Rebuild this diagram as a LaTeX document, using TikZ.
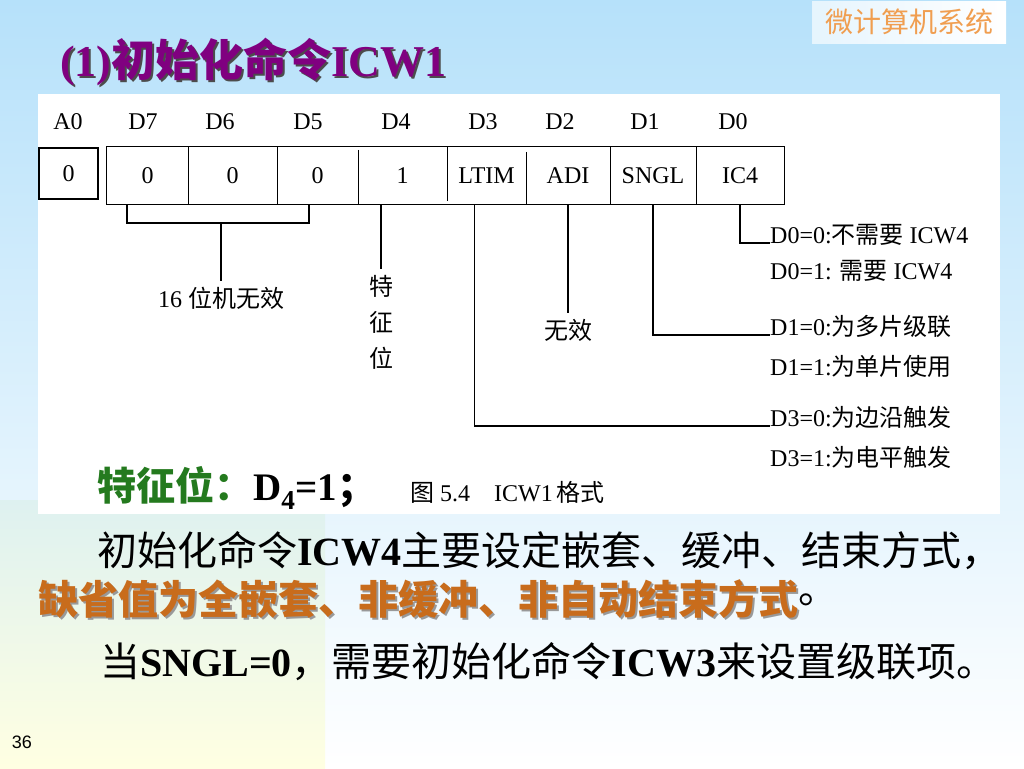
\documentclass[tikz,border=0pt]{standalone}
\usepackage{fontspec}
\setmainfont{Liberation Serif}
\newfontfamily\cjk{Noto Sans CJK SC}
\newfontfamily\pagefont{Liberation Sans}
\usetikzlibrary{positioning}

\definecolor{skyblue}{RGB}{182,225,250}
\definecolor{paleyellow}{RGB}{255,255,226}
\definecolor{palegreen}{RGB}{222,241,240}
\definecolor{titlepurple}{RGB}{128,0,128}
\definecolor{noteorange}{RGB}{200,108,28}
\definecolor{featgreen}{RGB}{36,122,30}
\definecolor{brandorange}{RGB}{240,158,80}

% text with a drop shadow behind it
\newcommand\shadowtext[3]{\makebox[0pt][l]{\hspace{2pt}\raisebox{-2.5pt}{\textcolor{#2}{#3}}}\textcolor{#1}{#3}}

\begin{document}
\begin{tikzpicture}[x=1pt, y=-1pt,
    lbl/.style={font=\fontsize{24}{28}\selectfont, inner sep=0pt},
    tag/.style={font=\fontsize{24}{36}\selectfont\cjk, inner sep=6pt, align=center},
    cell/.style={font=\fontsize{24}{28}\selectfont, inner sep=0pt, minimum height=57pt},
    wire/.style={line width=1.3pt},
    body/.style={font=\fontsize{40}{44}\selectfont, inner sep=0pt, anchor=west}]
    \useasboundingbox (0,0) rectangle (1024,768);

    % Slide background
    \shade[top color=skyblue, bottom color=white] (0,0) rectangle (1024,768);
    \shade[top color=palegreen, bottom color=paleyellow] (0,500) rectangle (325,768);
    \fill[white] (38,94) rectangle (1000,514);

    % Course banner
    \shade[left color=skyblue!35!white, right color=white] (812,2) rectangle (1006,44);
    \node[font=\fontsize{28}{30}\selectfont\cjk, text=brandorange] (brand) at (909,22) {微计算机系统};

    % Title
    \node[anchor=west, font=\fontsize{44}{48}\selectfont\bfseries, inner sep=0pt] (title) at (60,63)
        {\shadowtext{titlepurple}{black!70}{(1){\cjk 初始化命令}ICW1}};

    % Bit headers
    \foreach \nm/\x/\txt in {ha0/68/A0, hd7/143/D7, hd6/220/D6, hd5/308/D5, hd4/396/D4,
                             hd3/483/D3, hd2/560/D2, hd1/645/D1, hd0/733/D0} {
        \node[lbl] (\nm) at (\x,122) {\txt};
    }

    % A0 box
    \node[cell, draw, line width=1.3pt, minimum width=59pt, minimum height=51pt] (a0) at (68.5,173.5) {0};

    % ICW1 cells
    \foreach \nm/\xa/\xb/\txt in {d7/107/188/0, d6/188/277/0, d5/277/358/0, d4/358/447/1,
                                  ltim/447/526/LTIM, adi/526/610/ADI, sngl/610/696/SNGL, ic4/696/784/IC4} {
        \node[cell, minimum width={(\xb-\xa)*1pt}] (\nm) at ({(\xa+\xb)/2},175.5) {\txt};
    }
    \draw[wire] (d7.north west) rectangle (ic4.south east);
    \draw[wire] (d7.north east) -- (d7.south east);
    \draw[wire] (d6.north east) -- (d6.south east);
    \draw[wire] ([yshift=-3pt]d5.north east) -- (d5.south east);
    \draw[wire] (d4.north east) -- ([yshift=3pt]d4.south east);
    \draw[wire] ([yshift=-5pt]ltim.north east) -- (ltim.south east);
    \draw[wire] (adi.north east) -- (adi.south east);
    \draw[wire] (sngl.north east) -- (sngl.south east);

    % Explanations
    \node[tag] (wx16) at (221,298) {\rmfamily 16 {\cjk 位机无效}};
    \node[tag] (tzw) at (381,322) {特\\征\\位};
    \node[tag] (wx) at (568,330) {无效};
    \node[lbl, anchor=base west] (d00) at (770,243) {D0=0:{\cjk 不需要} ICW4};
    \node[lbl, anchor=base west] (d01) at (770,279) {D0=1: {\cjk 需要} ICW4};
    \node[lbl, anchor=base west] (d10) at (770,335) {D1=0:{\cjk 为多片级联}};
    \node[lbl, anchor=base west] (d11) at (770,375) {D1=1:{\cjk 为单片使用}};
    \node[lbl, anchor=base west] (d30) at (770,426) {D3=0:{\cjk 为边沿触发}};
    \node[lbl, anchor=base west] (d31) at (770,466) {D3=1:{\cjk 为电平触发}};

    % Connectors
    \coordinate (brL) at (127,223);
    \coordinate (brR) at (309,223);
    \draw[wire] (d7.south -| brL) -- (brL) -- (brR) -- (d5.south -| brR);
    \draw[wire] (wx16.north |- brL) -- (wx16.north);
    \draw[wire] (d4.south -| tzw.north) -- (tzw.north);
    \draw[wire] (adi.south) -- (wx.north);
    \draw[wire] (ic4.south) |- (d00.base west);
    \draw[wire] (sngl.south) |- (d10.base west);
    \draw[wire] ([xshift=-12pt]ltim.south) |- (d30.base west);

    % Caption and feature bit
    \node[lbl, anchor=west] (caption) at (410,492) {{\cjk 图} 5.4\quad ICW1\,{\cjk 格式}};
    \node[anchor=west, font=\fontsize{39}{42}\selectfont\bfseries, inner sep=0pt] (feature) at (97,488)
        {\textcolor{featgreen}{\cjk 特征位：}D\textsubscript{4}=1{\cjk ；}};

    % Body text
    \node[body] (line1) at (97,551) {{\cjk 初始化命令}\textbf{ICW4}{\cjk 主要设定嵌套、缓冲、结束方式，}};
    \node[body, font=\fontsize{40}{44}\selectfont\bfseries\cjk] (line2) at (38,600)
        {\shadowtext{noteorange}{black!40}{缺省值为全嵌套、非缓冲、非自动结束方式}};
    \node[body, font=\fontsize{40}{44}\selectfont\cjk, right=0pt of line2] (line2end) {。};
    \node[body] (line3) at (100,662) {{\cjk 当}\textbf{SNGL=0}{\cjk ，需要初始化命令}\textbf{ICW3}{\cjk 来设置级联项。}};

    % Page number
    \node[font=\pagefont\fontsize{18}{20}\selectfont] (page) at (22,742) {36};
\end{tikzpicture}
\end{document}
